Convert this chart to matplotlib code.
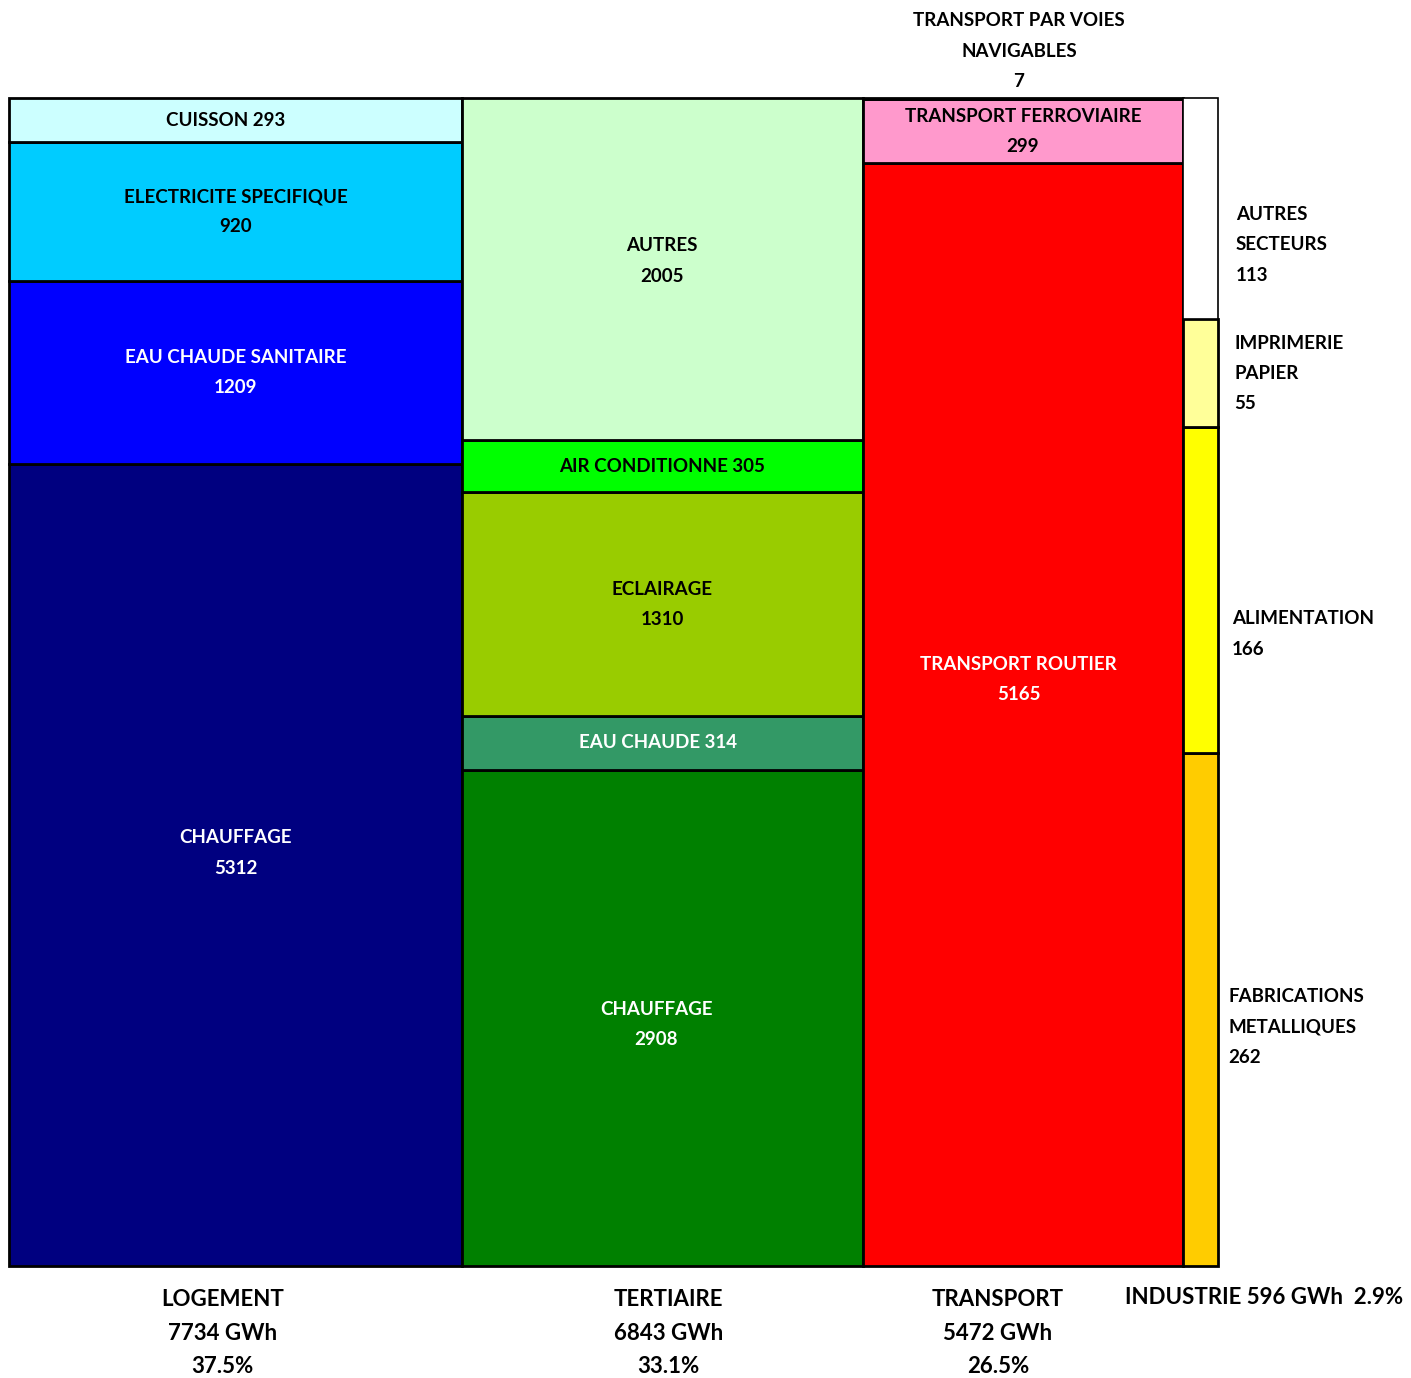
import matplotlib
matplotlib.use("Agg")
import matplotlib.pyplot as plt
from matplotlib.patches import Rectangle
import matplotlib.transforms as mtransforms

# ---------------- data ----------------
sectors = ["LOGEMENT", "TERTIAIRE", "TRANSPORT", "INDUSTRIE"]
sector_totals = [7734, 6843, 5472, 596]
sector_pct = ["37.5%", "33.1%", "26.5%", "2.9%"]

logement_labels = ["CHAUFFAGE", "EAU CHAUDE SANITAIRE", "ELECTRICITE SPECIFIQUE", "CUISSON"]
logement_values = [5312, 1209, 920, 293]
logement_colors = ["#000080", "#0000FF", "#00CCFF", "#CCFFFF"]

tertiaire_labels = ["CHAUFFAGE", "EAU CHAUDE", "ECLAIRAGE", "AIR CONDITIONNE", "AUTRES"]
tertiaire_values = [2908, 314, 1310, 305, 2005]
tertiaire_colors = ["#008000", "#339966", "#99CC00", "#00FF00", "#CCFFCC"]

transport_labels = ["TRANSPORT ROUTIER", "TRANSPORT FERROVIAIRE", "TRANSPORT PAR VOIES\nNAVIGABLES"]
transport_values = [5165, 299, 7]
transport_colors = ["#FF0000", "#FF99CC", "#FFFFFF"]

industrie_labels = ["FABRICATIONS\nMETALLIQUES", "ALIMENTATION", "IMPRIMERIE\nPAPIER", "AUTRES\nSECTEURS"]
industrie_values = [262, 166, 55, 113]
industrie_colors = ["#FFCC00", "#FFFF00", "#FFFF99", "#FFFFFF"]

# ---------------- figure ----------------
W, H = 1411, 1378
fig = plt.figure(figsize=(W / 100, H / 100), dpi=100)
ax = fig.add_axes([9 / W, 1 - 1266 / H, (1218 - 9) / W, (1266 - 98) / H])
total = sum(sector_totals)
ax.set_xlim(0, total)
ax.set_ylim(0, 1)
ax.axis("off")

FONT = ["Lato", "DejaVu Sans"]
fs_in = 13.5
fs_bottom = 16

white_text = {("LOGEMENT", "CHAUFFAGE"), ("LOGEMENT", "EAU CHAUDE SANITAIRE"),
              ("TERTIAIRE", "CHAUFFAGE"), ("TERTIAIRE", "EAU CHAUDE"),
              ("TRANSPORT", "TRANSPORT ROUTIER")}
single_line = {"CUISSON", "AIR CONDITIONNE", "EAU CHAUDE"}

# label nudges in pixels (dx, dy; dy positive = up)
nudges = {
    ("LOGEMENT", "CHAUFFAGE"): (0, 12),
    ("LOGEMENT", "CUISSON"): (-10, 0),
    ("TERTIAIRE", "AUTRES"): (0, 8),
    ("TERTIAIRE", "CHAUFFAGE"): (-6, -7),
    ("TERTIAIRE", "EAU CHAUDE"): (-4, 0),
    ("TRANSPORT", "TRANSPORT ROUTIER"): (-4, 35),
    ("INDUSTRIE", "AUTRES\nSECTEURS"): (6, -36),
    ("INDUSTRIE", "IMPRIMERIE\nPAPIER"): (4, 0),
    ("INDUSTRIE", "ALIMENTATION"): (2, -44),
    ("INDUSTRIE", "FABRICATIONS\nMETALLIQUES"): (-2, -18),
}

columns = [
    ("LOGEMENT", logement_labels, logement_values, logement_colors),
    ("TERTIAIRE", tertiaire_labels, tertiaire_values, tertiaire_colors),
    ("TRANSPORT", transport_labels, transport_values, transport_colors),
    ("INDUSTRIE", industrie_labels, industrie_values, industrie_colors),
]
bottom_dx = [-13, 6, -25, 0]

fig_y = mtransforms.blended_transform_factory(ax.transData, fig.transFigure)


def tr(base, dx, dy):
    return mtransforms.offset_copy(base, fig=fig, x=dx, y=dy, units="dots")


x0 = 0
for (sector, labels, values, colors), stot, pct, bdx in zip(columns, sector_totals, sector_pct, bottom_dx):
    width = stot
    csum = sum(values)
    y0 = 0
    for lab, val, col in zip(labels, values, colors):
        h = val / csum
        lw = 1.2 if sector == "INDUSTRIE" and lab.startswith("AUTRES") else 2
        ax.add_patch(Rectangle((x0, y0), width, h, facecolor=col, edgecolor="black",
                               linewidth=lw, clip_on=False))
        cx = x0 + width / 2
        cy = y0 + h / 2
        dx, dy = nudges.get((sector, lab), (0, 0))
        tc = "white" if (sector, lab) in white_text else "black"
        common = dict(fontsize=fs_in, fontweight="bold", family=FONT, clip_on=False,
                      linespacing=1.95)
        if sector == "INDUSTRIE":
            ax.text(x0 + width, cy, f"{lab}\n{val}", ha="left", va="center",
                    color="black", transform=tr(ax.transData, 12 + dx, dy), **common)
        elif sector == "TRANSPORT" and val < 50:
            ax.text(cx, 1, f"{lab}\n{val}", ha="center", va="center",
                    color="black", transform=tr(ax.transData, -4, 47), **common)
        elif lab in single_line:
            ax.text(cx, cy, f"{lab} {val}", ha="center", va="center", color=tc,
                    transform=tr(ax.transData, dx, dy), **common)
        else:
            ax.text(cx, cy, f"{lab}\n{val}", ha="center", va="center", color=tc,
                    transform=tr(ax.transData, dx, dy), **common)
        y0 += h
    # bottom sector label
    if sector == "INDUSTRIE":
        ax.text(x0 + width / 2, 1 - 1297 / H, f"{sector} {stot} GWh  {pct}",
                ha="center", va="center", fontsize=fs_bottom, fontweight="bold",
                family=FONT, transform=tr(fig_y, 1264 - (9 + (x0 + width / 2) / total * 1209), 0),
                clip_on=False)
    else:
        ax.text(x0 + width / 2, 1 - 1333 / H, f"{sector}\n{stot} GWh\n{pct}",
                ha="center", va="center", fontsize=fs_bottom, fontweight="bold",
                family=FONT, transform=tr(fig_y, bdx, 0), linespacing=1.75, clip_on=False)
    x0 += width

fig.savefig("out.png", dpi=100)
